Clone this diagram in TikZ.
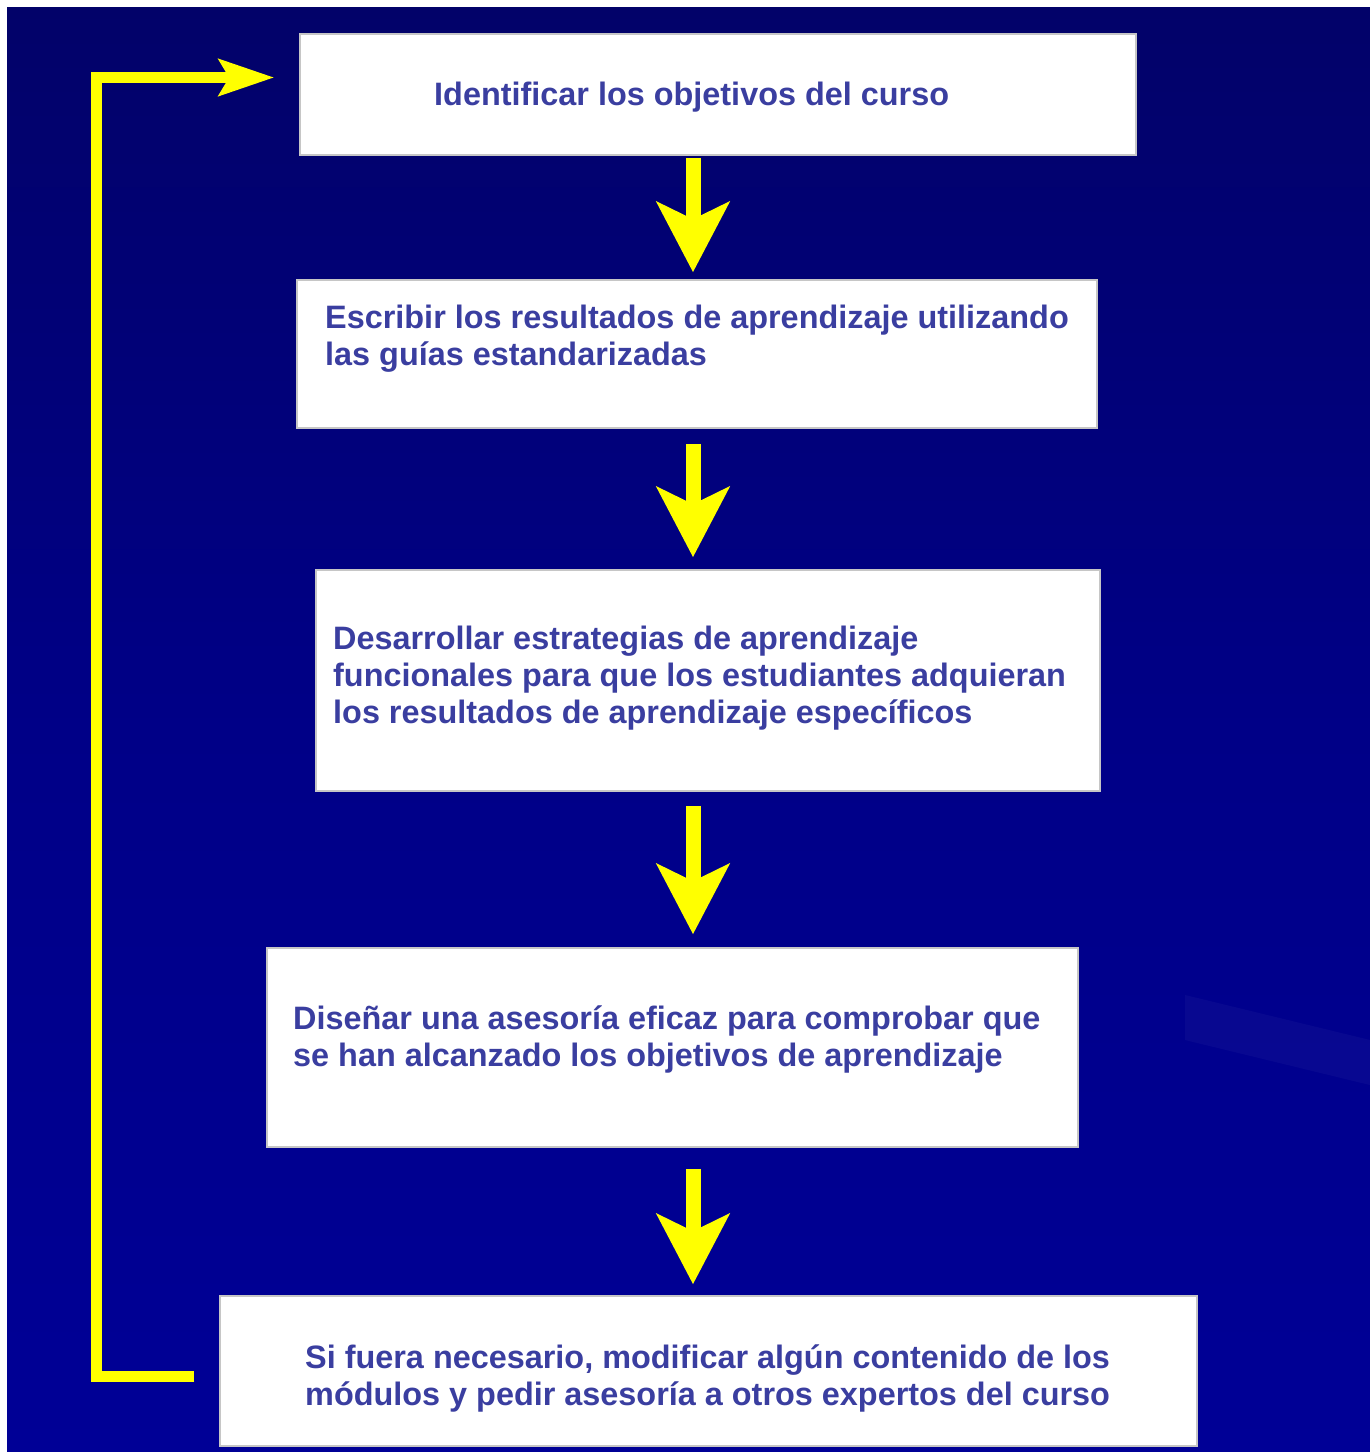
\documentclass[tikz,border=0pt]{standalone}
\usepackage{fontspec}
\setmainfont{Liberation Sans}
\usetikzlibrary{arrows.meta,calc}
\definecolor{bgtop}{RGB}{2,2,105}
\definecolor{bgmid}{RGB}{0,0,135}
\definecolor{bgbot}{RGB}{0,0,150}
\definecolor{txtblue}{RGB}{58,62,160}
\definecolor{ylw}{RGB}{255,255,0}
\tikzset{
  box/.style={draw=gray!45, line width=1.5pt, fill=white, inner sep=0pt},
  label/.style={anchor=west, align=left, inner sep=0pt, text=txtblue,
    font=\fontsize{32.4}{37}\selectfont\bfseries},
  downarrow/.style={draw=ylw, line width=15pt,
    -{Stealth[length=70pt, width=72pt, inset=17pt]}},
  looparrow/.style={draw=ylw, line width=11pt, line join=miter,
    -{Stealth[length=55pt, width=36pt, inset=10pt]}},
  streak/.style={fill=white, opacity=0.03}
}
\begin{document}
\begin{tikzpicture}[x=1pt, y=-1pt]
\useasboundingbox (0,0) rectangle (1370,1452);
\fill[white] (0,0) rectangle (1370,1452);
\shade[top color=bgtop, bottom color=bgbot, middle color=bgmid] (7,7) rectangle (1370,1452);
% subtle background streak
\begin{scope}
\clip (7,7) rectangle (1370,1452);
\fill[streak] (1185,995) -- (1370,1040) -- (1370,1085) -- (1185,1040) -- cycle;
\end{scope}

% boxes
\node[box, minimum width=836pt, minimum height=121pt] (b1) at (718,94.5) {};
\node[box, minimum width=800pt, minimum height=148pt] (b2) at (697,354) {};
\node[box, minimum width=784pt, minimum height=221pt] (b3) at (708,680.5) {};
\node[box, minimum width=811pt, minimum height=199pt] (b4) at (672.5,1047.5) {};
\node[box, minimum width=977pt, minimum height=150pt] (b5) at (708.5,1371) {};

% texts
\node[label] (t1) at (434,97) {Identificar los objetivos del curso};
\node[label] (t2) at (325,339) {Escribir los resultados de aprendizaje utilizando\\las guías estandarizadas};
\node[label] (t3) at (333,678) {Desarrollar estrategias de aprendizaje\\funcionales para que los estudiantes adquieran\\los resultados de aprendizaje específicos};
\node[label] (t4) at (293,1039) {Diseñar una asesoría eficaz para comprobar que\\se han alcanzado los objetivos de aprendizaje};
\node[label] (t5) at (305,1378) {Si fuera necesario, modificar algún contenido de los\\módulos y pedir asesoría a otros expertos del curso};

% down arrows
\coordinate (ax) at (693,0);
\draw[downarrow, shorten <=2pt, shorten >=7pt] (b1.south -| ax) -- (b2.north -| ax);
\draw[downarrow, shorten <=15pt, shorten >=12pt] (b2.south -| ax) -- (b3.north -| ax);
\draw[downarrow, shorten <=14pt, shorten >=13pt] (b3.south -| ax) -- (b4.north -| ax);
\draw[downarrow, shorten <=21pt, shorten >=11pt] (b4.south -| ax) -- (b5.north -| ax);

% feedback loop
\coordinate (lx) at (96,77.5);
\draw[looparrow] ([xshift=-25pt,yshift=-5pt]b5.west) -| (lx) -- ([xshift=-25pt,yshift=17pt]b1.west);
\end{tikzpicture}
\end{document}
